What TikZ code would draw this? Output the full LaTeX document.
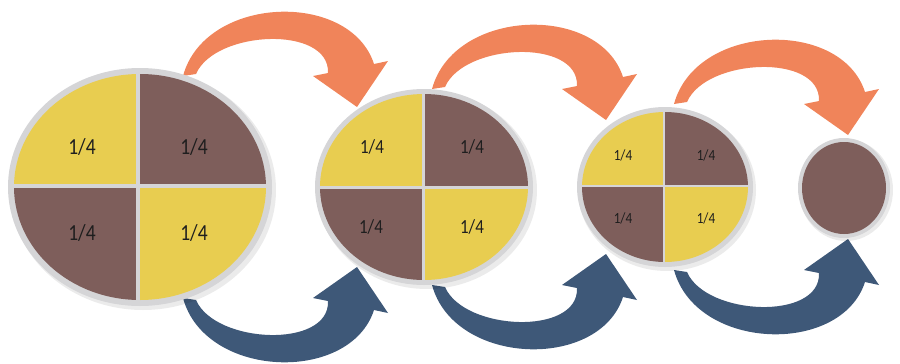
\documentclass[tikz,border=0pt]{standalone}
\usepackage{fontspec}
\setmainfont{Carlito}
\usetikzlibrary{shapes.geometric}
\definecolor{qyellow}{HTML}{E8CD50}
\definecolor{qbrown}{HTML}{7E5E5B}
\definecolor{ringgray}{HTML}{D5D5D7}
\definecolor{arrorange}{HTML}{F0845A}
\definecolor{arrblue}{HTML}{3E5878}
\definecolor{txtdark}{HTML}{1E1E1E}
\newcommand\myarrowshape[1]{%
  \fill[#1] (183,76) .. controls (205,-5) and (350,-10) .. (374,64)
    -- (388,61) -- (357,107) -- (313,76) -- (328,73)
    .. controls (330,25) and (215,30) .. (196,74) -- cycle;}
\newcommand\qlabel{\scalebox{0.85}[1]{1/4}}
\tikzset{
  disc/.style={ellipse, fill=ringgray, inner sep=0pt, outer sep=0pt},
  qtext/.style={text=txtdark, inner sep=0pt},
  qbig/.style={qtext, font=\fontsize{23}{23}\selectfont},
  qmid/.style={qtext, font=\fontsize{20}{20}\selectfont},
  qsmall/.style={qtext, font=\fontsize{15.5}{15.5}\selectfont},
}
\begin{document}
\begin{tikzpicture}[x=1pt,y=-1pt]
\useasboundingbox (0,0) rectangle (900,364);
% ---------- arrows (behind the discs)
\begin{scope}\myarrowshape{arrorange}\end{scope}
\begin{scope}[shift={(249,13)}]\myarrowshape{arrorange}\end{scope}
\begin{scope}[shift={(491,28)}]\myarrowshape{arrorange}\end{scope}
\begin{scope}[shift={(0,374)},yscale=-1]
  \begin{scope}\myarrowshape{arrblue}\end{scope}
  \begin{scope}[shift={(249,13)}]\myarrowshape{arrblue}\end{scope}
  \begin{scope}[shift={(491,28)}]\myarrowshape{arrblue}\end{scope}
\end{scope}
% ---------- shadows
\fill[black,opacity=0.08] (143,190) ellipse [x radius=133, y radius=120];
\fill[black,opacity=0.08] (427,190) ellipse [x radius=110, y radius=99];
\fill[black,opacity=0.08] (667,190) ellipse [x radius=89, y radius=81];
\fill[black,opacity=0.08] (846,190) ellipse [x radius=47, y radius=51];
% ---------- disc 1
\node[disc, minimum width=264pt, minimum height=238pt] (c1) at (140,187) {};
\begin{scope}
  \clip (140,187) ellipse [x radius=126, y radius=113];
  \fill[qyellow] (0,60) rectangle (138,186);
  \fill[qbrown] (138,60) rectangle (280,186);
  \fill[qbrown] (0,186) rectangle (138,310);
  \fill[qyellow] (138,186) rectangle (280,310);
\end{scope}
\draw[ringgray, line width=3.5pt] (c1.north -| 138,0) -- (c1.south -| 138,0);
\draw[ringgray, line width=3.5pt] (c1.west |- 0,186) -- (c1.east |- 0,186);
\node[qbig] (t11) at (82,147) {\qlabel};
\node[qbig] (t12) at (194,147) {\qlabel};
\node[qbig] (t13) at (82,233) {\qlabel};
\node[qbig] (t14) at (194,233) {\qlabel};
% ---------- disc 2
\node[disc, minimum width=218pt, minimum height=196pt] (c2) at (424,187) {};
\begin{scope}
  \clip (424,187) ellipse [x radius=104, y radius=93];
  \fill[qyellow] (300,80) rectangle (423,187);
  \fill[qbrown] (423,80) rectangle (540,187);
  \fill[qbrown] (300,187) rectangle (423,290);
  \fill[qyellow] (423,187) rectangle (540,290);
\end{scope}
\draw[ringgray, line width=3pt] (c2.north -| 423,0) -- (c2.south -| 423,0);
\draw[ringgray, line width=3pt] (c2.west |- 0,187) -- (c2.east |- 0,187);
\node[qmid] (t21) at (372,147) {\qlabel};
\node[qmid] (t22) at (472,147) {\qlabel};
\node[qmid] (t23) at (371,227) {\qlabel};
\node[qmid] (t24) at (472,227) {\qlabel};
% ---------- disc 3
\node[disc, minimum width=176pt, minimum height=160pt] (c3) at (665,187) {};
\begin{scope}
  \clip (665,187) ellipse [x radius=83, y radius=75];
  \fill[qyellow] (570,100) rectangle (664,186);
  \fill[qbrown] (664,100) rectangle (760,186);
  \fill[qbrown] (570,186) rectangle (664,270);
  \fill[qyellow] (664,186) rectangle (760,270);
\end{scope}
\draw[ringgray, line width=2.5pt] (c3.north -| 664,0) -- (c3.south -| 664,0);
\draw[ringgray, line width=2.5pt] (c3.west |- 0,186) -- (c3.east |- 0,186);
\node[qsmall] (t31) at (623,155) {\qlabel};
\node[qsmall] (t32) at (706,155) {\qlabel};
\node[qsmall] (t33) at (623,218) {\qlabel};
\node[qsmall] (t34) at (706,218) {\qlabel};
% ---------- disc 4
\node[disc, minimum width=92pt, minimum height=100pt] (c4) at (844,188) {};
\fill[qbrown] (c4.center) ellipse [x radius=42, y radius=46];
\end{tikzpicture}
\end{document}
